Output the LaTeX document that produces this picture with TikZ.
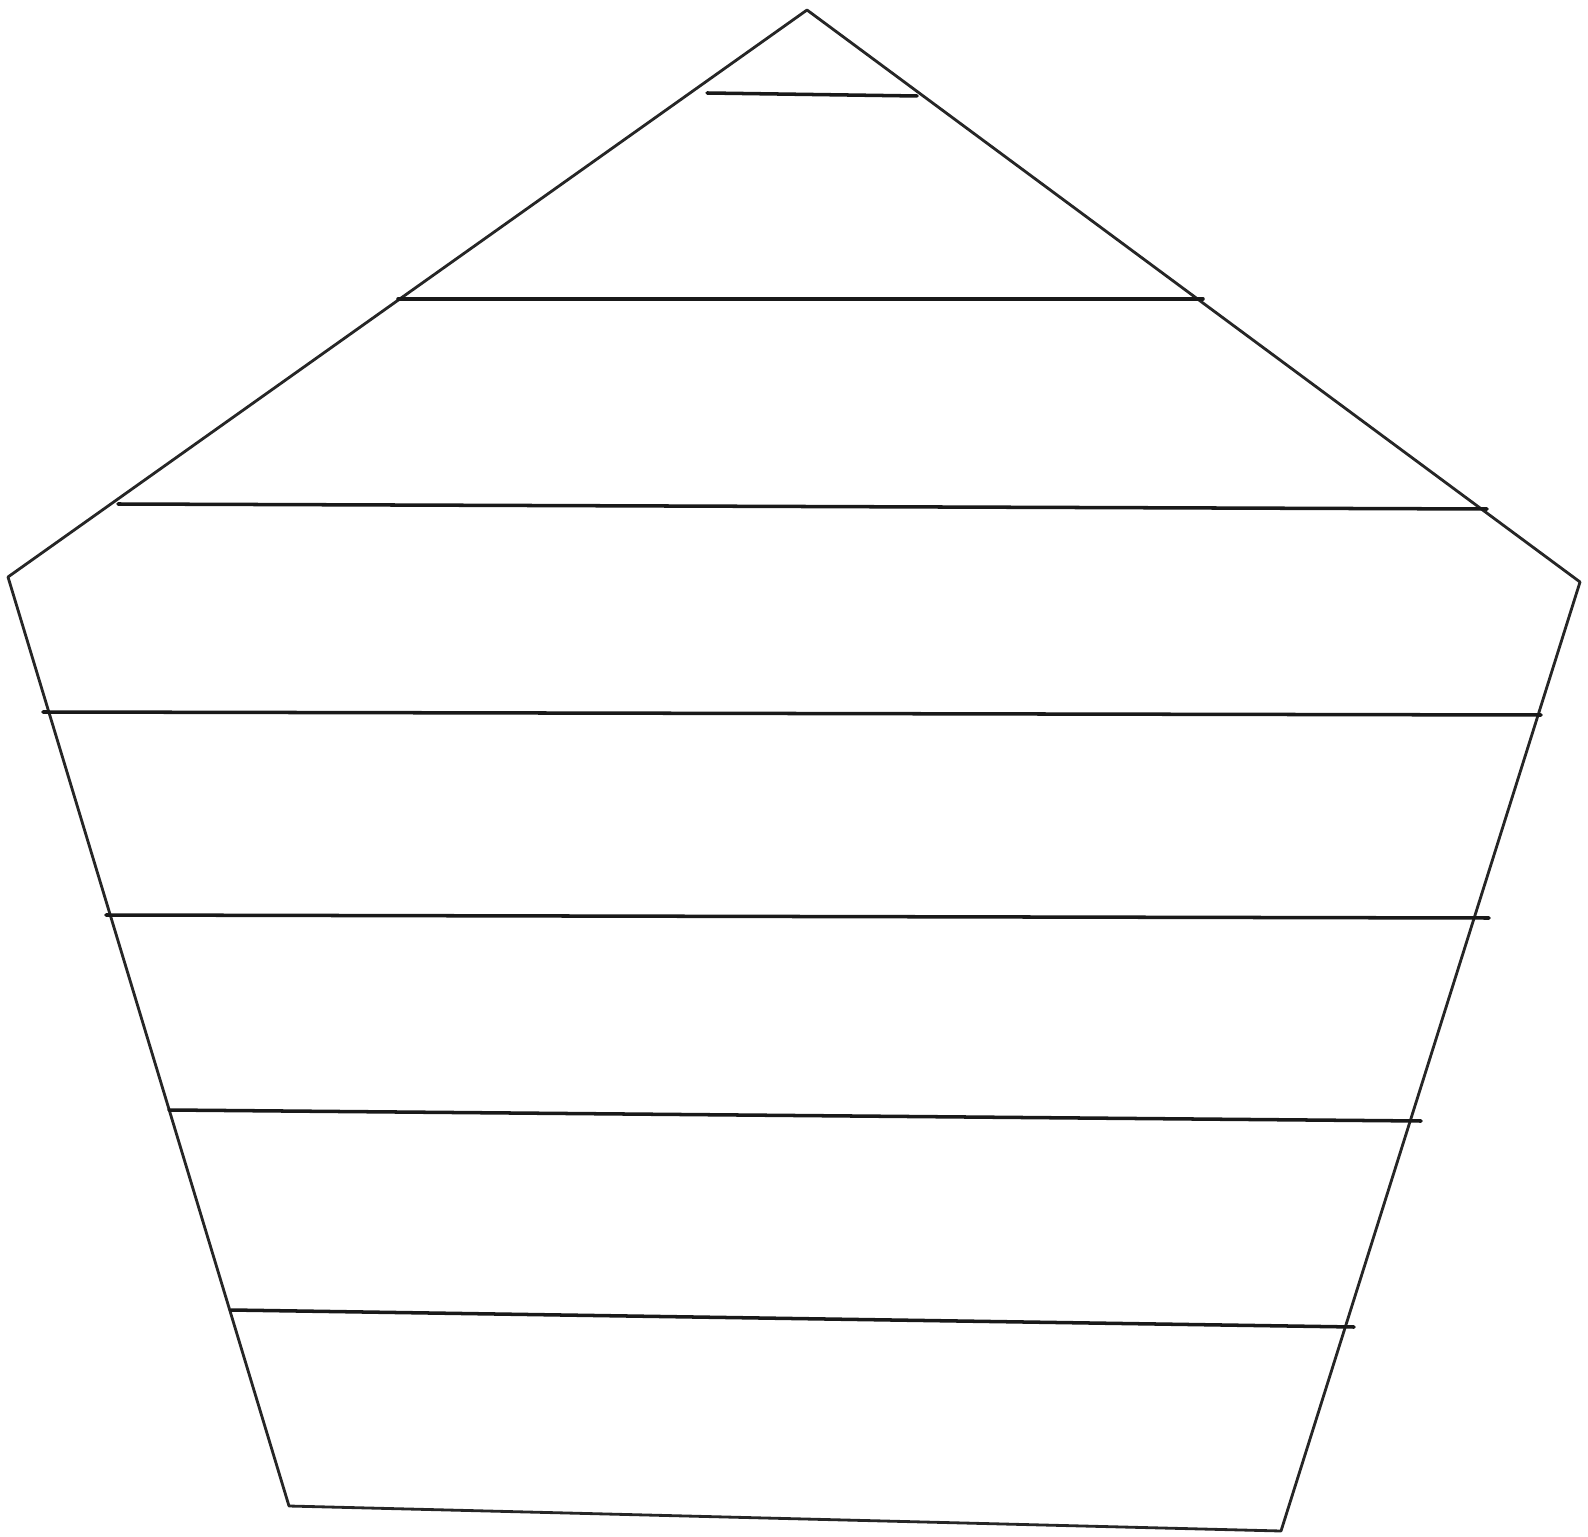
\documentclass[tikz,border=0pt]{standalone}
\usepackage{tikz}

\begin{document}
\begin{tikzpicture}[x=0.01cm, y=-0.01cm]
		\useasboundingbox (0, 0) rectangle (1588, 1537);
		\tikzset{edge/.style={black!85, line width=0.8pt, line join=round, line cap=round},
			layer/.style={black!90, line width=1pt, line cap=round}}
		% corners of the pentagon
		\coordinate (top) at (807, 10);
		\coordinate (left) at (8, 577);
		\coordinate (right) at (1580, 582);
		\coordinate (botleft) at (289, 1506);
		\coordinate (botright) at (1281, 1531);
		\draw [edge] (top) -- (right) -- (botright) -- (botleft) -- (left) -- cycle;
		% horizontal layers
		\draw [layer] (707, 93) -- (917, 96);
		\draw [layer] (398, 299) -- (1203, 299);
		\draw [layer] (118, 504) -- (1487, 509);
		\draw [layer] (43, 712) -- (1541, 715);
		\draw [layer] (106, 915) -- (1489, 918);
		\draw [layer] (169, 1110) -- (1421, 1121);
		\draw [layer] (231, 1310) -- (1354, 1327);
	\end{tikzpicture}
\end{document}
